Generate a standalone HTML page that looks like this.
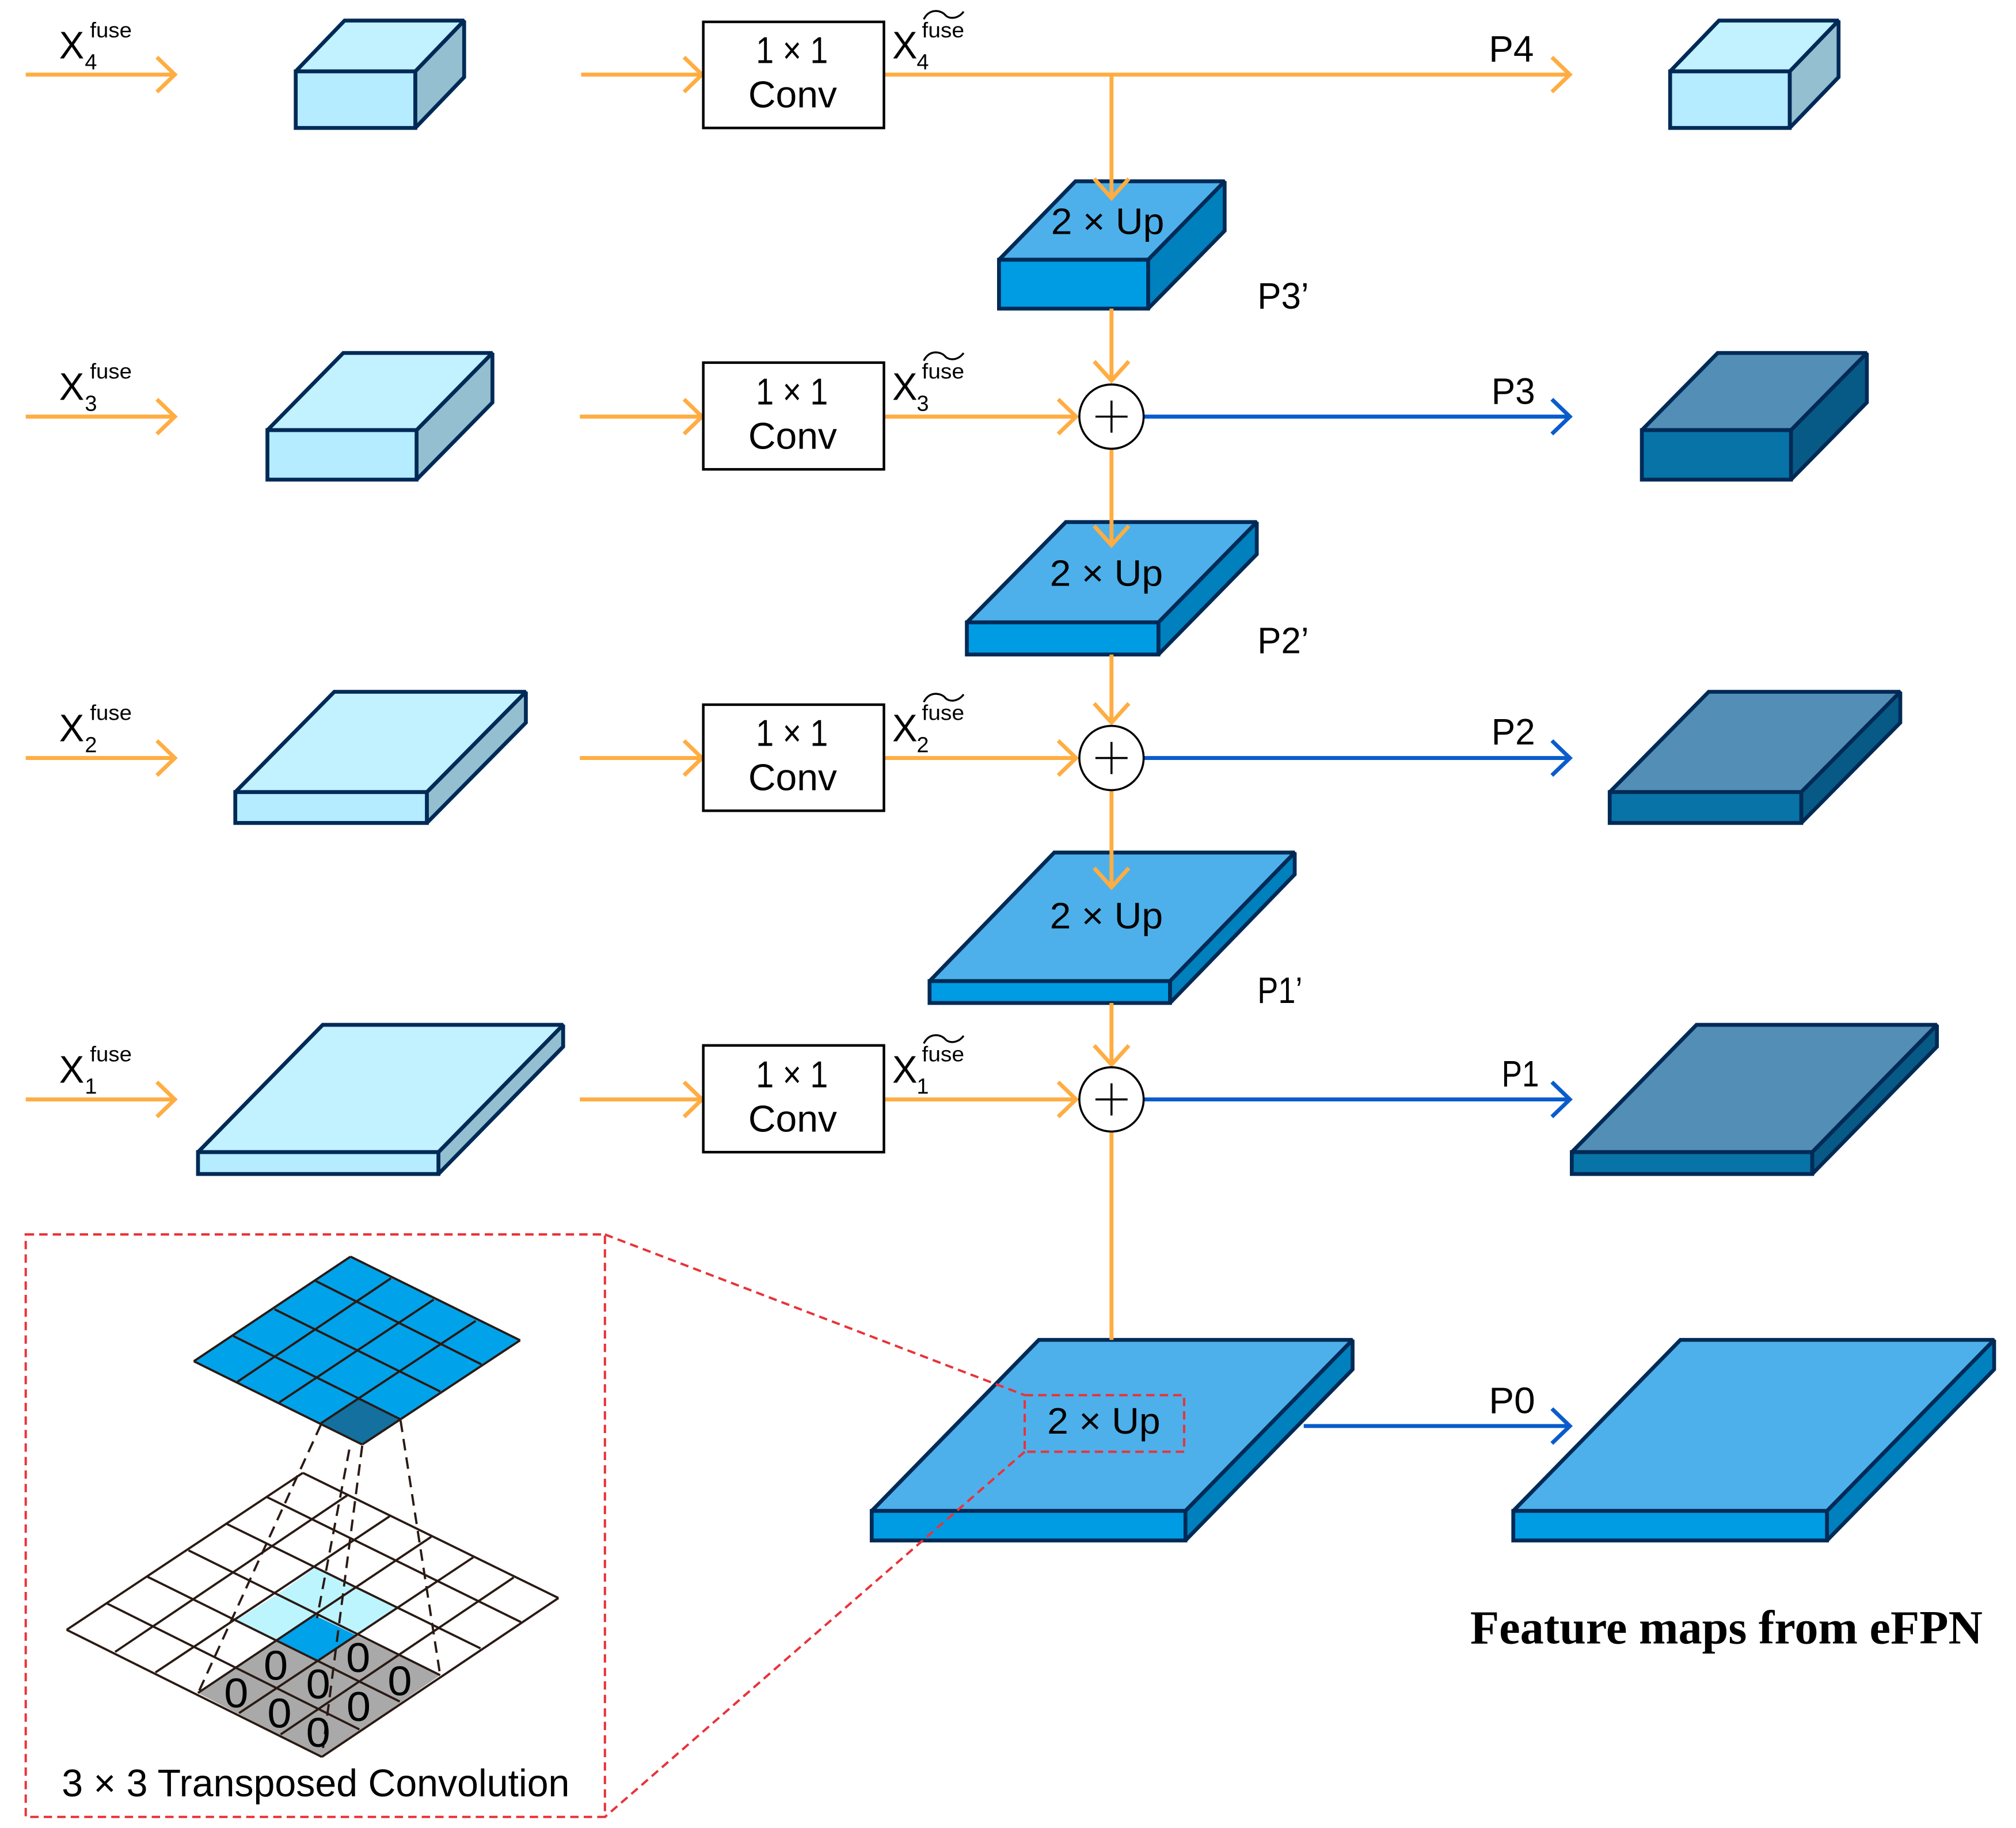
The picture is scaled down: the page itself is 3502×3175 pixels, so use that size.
<!DOCTYPE html>
<html><head><meta charset="utf-8"><style>
html,body{margin:0;padding:0;background:#fff}
svg{display:block}
text{font-family:"Liberation Sans",sans-serif;fill:#000}
.l{stroke:#002a56;stroke-width:3;stroke-linejoin:miter;stroke-miterlimit:2}
.lt{fill:#c2f1ff}.lf{fill:#b5ecff}.ls{fill:#93bfd0}
.bt{fill:#4db0ea}.bf{fill:#009ce3}.bs{fill:#0080bd}
.dt{fill:#528eb6}.df{fill:#0873a6}.ds{fill:#085a86}
.o{stroke:#ffad42;stroke-width:3.1;fill:none}
.b{stroke:#0a5ccc;stroke-width:3.1;fill:none}
.r{stroke:#e8333a;stroke-width:1.8;fill:none;stroke-dasharray:6.5 4}
.g{stroke:#2a1a14;stroke-width:5.6;fill:none}
</style></head><body>
<svg xmlns="http://www.w3.org/2000/svg" width="3502" height="3175" viewBox="0 0 1568 1421.6">
<rect width="1568" height="1421.6" fill="#fff"/>

<!-- left light cubes -->
<g class="l">
<polygon class="ls" points="323,55.5 361,16 361,60 323,99.5"/><polygon class="lt" points="230,55.5 268,16 361,16 323,55.5"/><rect class="lf" x="230" y="55.5" width="93" height="44"/>
<polygon class="ls" points="324,334.5 383,274.5 383,313 324,373"/><polygon class="lt" points="208,334.5 267,274.5 383,274.5 324,334.5"/><rect class="lf" x="208" y="334.5" width="116" height="38.5"/>
<polygon class="ls" points="332,616 409,538 409,562 332,640"/><polygon class="lt" points="183,616 260,538 409,538 332,616"/><rect class="lf" x="183" y="616" width="149" height="24"/>
<polygon class="ls" points="341,896 438,797 438,814 341,913"/><polygon class="lt" points="154,896 251,797 438,797 341,896"/><rect class="lf" x="154" y="896" width="187" height="17"/>
<!-- right column -->
<polygon class="ls" points="1392,55.5 1430,16 1430,60 1392,99.5"/><polygon class="lt" points="1299,55.5 1337,16 1430,16 1392,55.5"/><rect class="lf" x="1299" y="55.5" width="93" height="44"/>
<polygon class="ds" points="1393,334.5 1452,274.5 1452,313 1393,373"/><polygon class="dt" points="1277,334.5 1336,274.5 1452,274.5 1393,334.5"/><rect class="df" x="1277" y="334.5" width="116" height="38.5"/>
<polygon class="ds" points="1401,616 1478,538 1478,562 1401,640"/><polygon class="dt" points="1252,616 1329,538 1478,538 1401,616"/><rect class="df" x="1252" y="616" width="149" height="24"/>
<polygon class="ds" points="1409.5,896 1506.5,797 1506.5,814 1409.5,913"/><polygon class="dt" points="1222.5,896 1319.5,797 1506.5,797 1409.5,896"/><rect class="df" x="1222.5" y="896" width="187" height="17"/>
<!-- up cubes -->
<polygon class="bs" points="893,202 952.5,141 952.5,179.5 893,240"/><polygon class="bt" points="777,202 836.5,141 952.5,141 893,202"/><rect class="bf" x="777" y="202" width="116" height="38"/>
<polygon class="bs" points="901,484 977.5,406 977.5,431 901,509"/><polygon class="bt" points="752,484 829,406 977.5,406 901,484"/><rect class="bf" x="752" y="484" width="149" height="25"/>
<polygon class="bs" points="910,763 1007,663 1007,680 910,780"/><polygon class="bt" points="723,763 820,663 1007,663 910,763"/><rect class="bf" x="723" y="763" width="187" height="17"/>
<polygon class="bs" points="922,1175 1052,1042 1052,1065 922,1198"/><polygon class="bt" points="678,1175 808,1042 1052,1042 922,1175"/><rect class="bf" x="678" y="1175" width="244" height="23"/>
<polygon class="bs" points="1421,1175 1551,1042 1551,1065 1421,1198"/><polygon class="bt" points="1177,1175 1307,1042 1551,1042 1421,1175"/><rect class="bf" x="1177" y="1175" width="244" height="23"/>
</g>

<!-- orange verticals -->
<g class="o">
<path d="M864.5 58V154M851 139L864.5 154L878 139"/>
<path d="M864.5 240V296M851 281L864.5 296L878 281"/>
<path d="M864.5 349V424M851 409L864.5 424L878 409"/>
<path d="M864.5 509V562M851 547L864.5 562L878 547"/>
<path d="M864.5 614V690M851 675L864.5 690L878 675"/>
<path d="M864.5 780V828M851 813L864.5 828L878 813"/>
<path d="M864.5 880V1042"/>
<!-- horizontals -->
<path d="M20 58H136M122 44.5L136 58L122 71.5"/>
<path d="M452 58H546M532 44.5L546 58L532 71.5"/>
<path d="M688 58H1221M1207 44.5L1221 58L1207 71.5"/>
<path d="M20 324H136M122 310.5L136 324L122 337.5"/>
<path d="M451 324H546M532 310.5L546 324L532 337.5"/>
<path d="M688 324H837M823 310.5L837 324L823 337.5"/>
<path d="M20 589.5H136M122 576L136 589.5L122 603"/>
<path d="M451 589.5H546M532 576L546 589.5L532 603"/>
<path d="M688 589.5H837M823 576L837 589.5L823 603"/>
<path d="M20 855H136M122 841.5L136 855L122 868.5"/>
<path d="M451 855H546M532 841.5L546 855L532 868.5"/>
<path d="M688 855H837M823 841.5L837 855L823 868.5"/>
</g>
<g class="b">
<path d="M890 324H1221M1207 310.5L1221 324L1207 337.5"/>
<path d="M890 589.5H1221M1207 576L1221 589.5L1207 603"/>
<path d="M890 855H1221M1207 841.5L1221 855L1207 868.5"/>
<path d="M1014 1109H1221M1207 1095.5L1221 1109L1207 1122.5"/>
</g>

<!-- circles -->
<g fill="#fff" stroke="#000" stroke-width="1.6">
<circle cx="864.5" cy="324" r="25"/><circle cx="864.5" cy="589.5" r="25"/><circle cx="864.5" cy="855" r="25"/>
<path d="M852 324H877M864.5 311.5V336.5M852 589.5H877M864.5 577V602M852 855H877M864.5 842.5V867.5" fill="none"/>
</g>

<!-- conv boxes -->
<g fill="#fff" stroke="#000" stroke-width="2">
<rect x="547" y="17" width="140.5" height="82.5"/><rect x="547" y="282" width="140.5" height="83"/><rect x="547" y="548" width="140.5" height="82.5"/><rect x="547" y="813" width="140.5" height="83"/>
</g>
<g font-size="29">
<text x="588" y="49" textLength="56" lengthAdjust="spacingAndGlyphs">1 × 1</text><text x="582" y="83.5" textLength="69" lengthAdjust="spacingAndGlyphs">Conv</text>
<text x="588" y="314.5" textLength="56" lengthAdjust="spacingAndGlyphs">1 × 1</text><text x="582" y="349" textLength="69" lengthAdjust="spacingAndGlyphs">Conv</text>
<text x="588" y="580" textLength="56" lengthAdjust="spacingAndGlyphs">1 × 1</text><text x="582" y="614.5" textLength="69" lengthAdjust="spacingAndGlyphs">Conv</text>
<text x="588" y="845.5" textLength="56" lengthAdjust="spacingAndGlyphs">1 × 1</text><text x="582" y="880" textLength="69" lengthAdjust="spacingAndGlyphs">Conv</text>
</g>

<!-- X labels -->
<g>
<text x="46" y="45.5" font-size="30" textLength="19.5" lengthAdjust="spacingAndGlyphs">X</text><text x="70" y="29" font-size="16.5" textLength="32.5" lengthAdjust="spacingAndGlyphs">fuse</text><text x="66" y="54" font-size="17">4</text>
<text x="694" y="45.5" font-size="30" textLength="19.5" lengthAdjust="spacingAndGlyphs">X</text><text x="717" y="29" font-size="16.5" textLength="33" lengthAdjust="spacingAndGlyphs">fuse</text><text x="713" y="54" font-size="17">4</text>
<path d="M718.5 15C723 6 732 8 735 11.5S745 15 749.5 9" fill="none" stroke="#000" stroke-width="1.5"/>
</g>
<g transform="translate(0 265.5)">
<text x="46" y="45.5" font-size="30" textLength="19.5" lengthAdjust="spacingAndGlyphs">X</text><text x="70" y="29" font-size="16.5" textLength="32.5" lengthAdjust="spacingAndGlyphs">fuse</text><text x="66" y="54" font-size="17">3</text>
<text x="694" y="45.5" font-size="30" textLength="19.5" lengthAdjust="spacingAndGlyphs">X</text><text x="717" y="29" font-size="16.5" textLength="33" lengthAdjust="spacingAndGlyphs">fuse</text><text x="713" y="54" font-size="17">3</text>
<path d="M718.5 15C723 6 732 8 735 11.5S745 15 749.5 9" fill="none" stroke="#000" stroke-width="1.5"/>
</g>
<g transform="translate(0 531)">
<text x="46" y="45.5" font-size="30" textLength="19.5" lengthAdjust="spacingAndGlyphs">X</text><text x="70" y="29" font-size="16.5" textLength="32.5" lengthAdjust="spacingAndGlyphs">fuse</text><text x="66" y="54" font-size="17">2</text>
<text x="694" y="45.5" font-size="30" textLength="19.5" lengthAdjust="spacingAndGlyphs">X</text><text x="717" y="29" font-size="16.5" textLength="33" lengthAdjust="spacingAndGlyphs">fuse</text><text x="713" y="54" font-size="17">2</text>
<path d="M718.5 15C723 6 732 8 735 11.5S745 15 749.5 9" fill="none" stroke="#000" stroke-width="1.5"/>
</g>
<g transform="translate(0 796.5)">
<text x="46" y="45.5" font-size="30" textLength="19.5" lengthAdjust="spacingAndGlyphs">X</text><text x="70" y="29" font-size="16.5" textLength="32.5" lengthAdjust="spacingAndGlyphs">fuse</text><text x="66" y="54" font-size="17">1</text>
<text x="694" y="45.5" font-size="30" textLength="19.5" lengthAdjust="spacingAndGlyphs">X</text><text x="717" y="29" font-size="16.5" textLength="33" lengthAdjust="spacingAndGlyphs">fuse</text><text x="713" y="54" font-size="17">1</text>
<path d="M718.5 15C723 6 732 8 735 11.5S745 15 749.5 9" fill="none" stroke="#000" stroke-width="1.5"/>
</g>

<!-- P labels -->
<g font-size="28.5">
<text x="1158" y="48" textLength="35" lengthAdjust="spacingAndGlyphs">P4</text>
<text x="1160" y="314" textLength="34" lengthAdjust="spacingAndGlyphs">P3</text>
<text x="1160" y="579" textLength="34" lengthAdjust="spacingAndGlyphs">P2</text>
<text x="1168" y="845" textLength="29" lengthAdjust="spacingAndGlyphs">P1</text>
<text x="1158" y="1099" textLength="36" lengthAdjust="spacingAndGlyphs">P0</text>
<text x="978" y="240" textLength="40" lengthAdjust="spacingAndGlyphs">P3’</text>
<text x="978" y="508" textLength="40" lengthAdjust="spacingAndGlyphs">P2’</text>
<text x="978" y="780" textLength="35" lengthAdjust="spacingAndGlyphs">P1’</text>
<text x="817.5" y="182" textLength="88" lengthAdjust="spacingAndGlyphs">2 × Up</text>
<text x="816.5" y="455.5" textLength="88" lengthAdjust="spacingAndGlyphs">2 × Up</text>
<text x="816.5" y="722" textLength="88" lengthAdjust="spacingAndGlyphs">2 × Up</text>
<text x="814.5" y="1115" textLength="88" lengthAdjust="spacingAndGlyphs">2 × Up</text>
</g>

<!-- inset grids -->
<g transform="translate(0 949.5) scale(.31407 .30139)">
<polygon points="868,92 1288,308 897,577 480,362" fill="#00a2ea"/>
<polygon points="795,522 890,460 992,512 897,577" fill="#13709f"/>
<g class="g">
<path d="M868 92L1288 308M782 155L1192 370M680 228L1090 440M578 297L992 512M480 362L897 577"/>
<path d="M868 92L480 362M968 148L588 415M1074 203L692 468M1178 258L795 522M1288 308L897 577"/>
</g>
<polygon points="750,650 1383,973 797,1383 165,1055" fill="#fff"/>
<polygon points="490,1218 685,1082 787,1135 880,1068 1090,1172 797,1383" fill="#a9a9a9"/>
<polygon points="780,895 880,945 980,998 880,1068 780,1018 685,1082 585,1030 685,965" fill="#bdf5ff"/>
<polygon points="685,1082 780,1018 880,1068 787,1135" fill="#00a2ea"/>
<g class="g">
<path d="M750 650L1383 973M660 712L1290 1035M562 782L1190 1103M467 850L1090 1172M365 918L990 1240M265 987L890 1312M165 1055L797 1383"/>
<path d="M750 650L165 1055M860 708L285 1112M965 762L385 1165M1068 815L490 1218M1172 868L592 1270M1272 920L695 1325M1383 973L797 1383"/>
</g>
<g stroke="#2a1a14" stroke-width="5.5" fill="none" stroke-dasharray="30 18">
<path d="M795 525L492 1215"/>
<path d="M865 590L785 1025"/>
<path d="M897 580L800 1360"/>
<path d="M992 515L1090 1172"/>
</g>
<g font-size="108" text-anchor="middle" fill="#1a1a1a">
<text x="683" y="1184">0</text><text x="887" y="1164">0</text><text x="585" y="1255">0</text><text x="788" y="1232">0</text><text x="990" y="1224">0</text><text x="692" y="1307">0</text><text x="888" y="1290">0</text><text x="788" y="1357">0</text>
</g>
</g>
<text x="48" y="1397" font-size="30" textLength="395" lengthAdjust="spacingAndGlyphs">3 × 3 Transposed Convolution</text>

<!-- red dashed -->
<rect class="r" x="20" y="960" width="450.5" height="453"/>
<rect class="r" x="797" y="1085" width="124" height="44"/>
<path class="r" d="M470.5 960L797 1085M797 1129L470.5 1413"/>

<text x="1143.5" y="1278" font-size="37" font-weight="bold" style="font-family:'Liberation Serif',serif" textLength="398.5" lengthAdjust="spacingAndGlyphs">Feature maps from eFPN</text>
</svg>
</body></html>
